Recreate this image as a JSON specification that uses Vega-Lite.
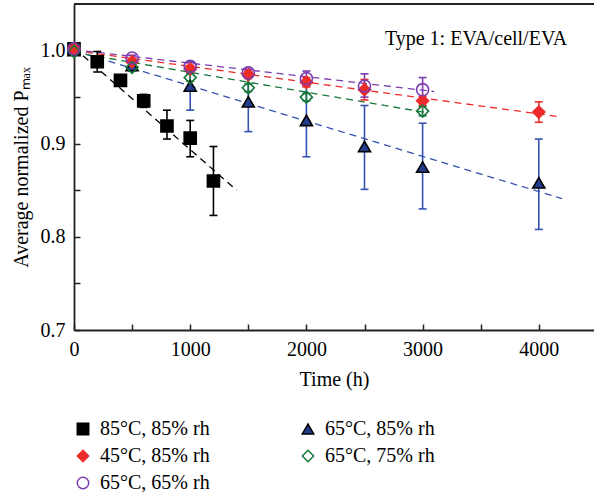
{
  "$schema": "https://vega.github.io/schema/vega-lite/v6.json",
  "width": 520,
  "height": 326,
  "autosize": {"type": "none"},
  "padding": {"left": 74, "top": 4, "right": 0, "bottom": 168},
  "background": "white",
  "config": {
    "view": {"stroke": null},
    "font": "Liberation Serif",
    "axis": {
      "grid": false,
      "domainColor": "#222222",
      "domainWidth": 1.8,
      "tickColor": "#222222",
      "tickWidth": 1.5,
      "tickSize": -6,
      "labelFlush": false,
      "labelFont": "Liberation Serif",
      "labelFontSize": 20,
      "labelColor": "black",
      "titleFont": "Liberation Serif",
      "titleFontSize": 20,
      "titleFontWeight": "normal",
      "titleColor": "black"
    },
    "legend": {
      "labelFont": "Liberation Serif",
      "labelFontSize": 20,
      "labelColor": "black"
    }
  },
  "datasets": {
    "pts": [
      {"s": "85°C, 85% rh", "t": 0, "v": 1.002},
      {"s": "85°C, 85% rh", "t": 200, "v": 0.988, "lo": 0.977, "hi": 0.999},
      {"s": "85°C, 85% rh", "t": 400, "v": 0.968, "lo": 0.963, "hi": 0.973},
      {"s": "85°C, 85% rh", "t": 600, "v": 0.946, "lo": 0.939, "hi": 0.953},
      {"s": "85°C, 85% rh", "t": 800, "v": 0.919, "lo": 0.905, "hi": 0.936},
      {"s": "85°C, 85% rh", "t": 1000, "v": 0.906, "lo": 0.886, "hi": 0.925},
      {"s": "85°C, 85% rh", "t": 1200, "v": 0.860, "lo": 0.823, "hi": 0.897},
      {"s": "65°C, 85% rh", "t": 0, "v": 1.0},
      {"s": "65°C, 85% rh", "t": 500, "v": 0.984, "lo": 0.978, "hi": 0.990},
      {"s": "65°C, 85% rh", "t": 1000, "v": 0.962, "lo": 0.936, "hi": 0.988},
      {"s": "65°C, 85% rh", "t": 1500, "v": 0.945, "lo": 0.913, "hi": 0.977},
      {"s": "65°C, 85% rh", "t": 2000, "v": 0.925, "lo": 0.886, "hi": 0.963},
      {"s": "65°C, 85% rh", "t": 2500, "v": 0.897, "lo": 0.851, "hi": 0.941},
      {"s": "65°C, 85% rh", "t": 3000, "v": 0.875, "lo": 0.830, "hi": 0.922},
      {"s": "65°C, 85% rh", "t": 4000, "v": 0.858, "lo": 0.808, "hi": 0.905},
      {"s": "45°C, 85% rh", "t": 0, "v": 1.002},
      {"s": "45°C, 85% rh", "t": 500, "v": 0.988, "lo": 0.985, "hi": 0.991},
      {"s": "45°C, 85% rh", "t": 1000, "v": 0.980, "lo": 0.976, "hi": 0.984},
      {"s": "45°C, 85% rh", "t": 1500, "v": 0.974, "lo": 0.970, "hi": 0.978},
      {"s": "45°C, 85% rh", "t": 2000, "v": 0.966, "lo": 0.961, "hi": 0.971},
      {"s": "45°C, 85% rh", "t": 2500, "v": 0.958, "lo": 0.947, "hi": 0.969},
      {"s": "45°C, 85% rh", "t": 3000, "v": 0.946, "lo": 0.941, "hi": 0.951},
      {"s": "45°C, 85% rh", "t": 4000, "v": 0.934, "lo": 0.923, "hi": 0.945},
      {"s": "65°C, 75% rh", "t": 0, "v": 0.999},
      {"s": "65°C, 75% rh", "t": 500, "v": 0.982, "lo": 0.979, "hi": 0.985},
      {"s": "65°C, 75% rh", "t": 1000, "v": 0.971, "lo": 0.967, "hi": 0.975},
      {"s": "65°C, 75% rh", "t": 1500, "v": 0.960, "lo": 0.956, "hi": 0.964},
      {"s": "65°C, 75% rh", "t": 2000, "v": 0.950, "lo": 0.946, "hi": 0.954},
      {"s": "65°C, 75% rh", "t": 3000, "v": 0.935, "lo": 0.930, "hi": 0.940},
      {"s": "65°C, 65% rh", "t": 0, "v": 1.002},
      {"s": "65°C, 65% rh", "t": 500, "v": 0.992, "lo": 0.989, "hi": 0.995},
      {"s": "65°C, 65% rh", "t": 1000, "v": 0.983, "lo": 0.979, "hi": 0.987},
      {"s": "65°C, 65% rh", "t": 1500, "v": 0.976, "lo": 0.972, "hi": 0.980},
      {"s": "65°C, 65% rh", "t": 2000, "v": 0.970, "lo": 0.962, "hi": 0.978},
      {"s": "65°C, 65% rh", "t": 2500, "v": 0.962, "lo": 0.950, "hi": 0.975},
      {"s": "65°C, 65% rh", "t": 3000, "v": 0.958, "lo": 0.946, "hi": 0.971}
    ],
    "fits": [
      {"s": "85°C, 85% rh", "t": 0, "v": 1.003},
      {"s": "85°C, 85% rh", "t": 1400, "v": 0.850},
      {"s": "65°C, 85% rh", "t": 0, "v": 1.0},
      {"s": "65°C, 85% rh", "t": 4200, "v": 0.841},
      {"s": "45°C, 85% rh", "t": 0, "v": 1.0},
      {"s": "45°C, 85% rh", "t": 4180, "v": 0.929},
      {"s": "65°C, 75% rh", "t": 0, "v": 0.998},
      {"s": "65°C, 75% rh", "t": 3050, "v": 0.933},
      {"s": "65°C, 65% rh", "t": 0, "v": 1.001},
      {"s": "65°C, 65% rh", "t": 3100, "v": 0.956}
    ],
    "notes": [
      {"label": "Type 1: EVA/cell/EVA", "t": 3460, "v": 1.0065}
    ]
  },
  "layer": [
    {
      "data": {"name": "fits"},
      "mark": {"type": "line", "strokeDash": [7, 5], "strokeWidth": 1.3},
      "encoding": {
        "x": {
          "field": "t", "type": "quantitative",
          "scale": {"domain": [0, 4475], "nice": false, "zero": false},
          "axis": {
            "values": [0, 500, 1000, 1500, 2000, 2500, 3000, 3500, 4000],
            "format": "d",
            "labelExpr": "datum.value % 1000 === 0 ? datum.label : ''",
            "labelPadding": 15,
            "title": "Time (h)",
            "titlePadding": 10
          }
        },
        "y": {
          "field": "v", "type": "quantitative",
          "scale": {"domain": [0.7, 1.05], "nice": false, "zero": false},
          "axis": {
            "values": [0.7, 0.75, 0.8, 0.85, 0.9, 0.95, 1.0],
            "labelExpr": "round(datum.value * 20) % 2 === 0 ? format(datum.value, '.1f') : ''",
            "labelPadding": 15,
            "title": "Average normalized Pₘₐₓ",
            "titlePadding": 9
          }
        },
        "color": {
          "field": "s", "type": "nominal",
          "scale": {
            "domain": ["45°C, 85% rh", "65°C, 65% rh", "65°C, 75% rh", "65°C, 85% rh", "85°C, 85% rh"],
            "range": ["#ee2b2b", "#7a3db0", "#16773a", "#3552b0", "black"]
          },
          "legend": null
        }
      }
    },
    {
      "data": {"name": "pts"},
      "mark": {"type": "rule", "strokeWidth": 1.6},
      "encoding": {
        "x": {"field": "t", "type": "quantitative"},
        "y": {"field": "lo", "type": "quantitative"},
        "y2": {"field": "hi"},
        "color": {"field": "s", "type": "nominal", "legend": null}
      }
    },
    {
      "data": {"name": "pts"},
      "mark": {"type": "tick", "orient": "horizontal", "size": 8, "thickness": 1.6, "opacity": 1},
      "encoding": {
        "x": {"field": "t", "type": "quantitative"},
        "y": {"field": "lo", "type": "quantitative"},
        "color": {"field": "s", "type": "nominal", "legend": null}
      }
    },
    {
      "data": {"name": "pts"},
      "mark": {"type": "tick", "orient": "horizontal", "size": 8, "thickness": 1.6, "opacity": 1},
      "encoding": {
        "x": {"field": "t", "type": "quantitative"},
        "y": {"field": "hi", "type": "quantitative"},
        "color": {"field": "s", "type": "nominal", "legend": null}
      }
    },
    {
      "data": {"name": "pts"},
      "mark": {"type": "point", "size": 145, "opacity": 1, "strokeWidth": 1.6},
      "encoding": {
        "x": {"field": "t", "type": "quantitative"},
        "y": {"field": "v", "type": "quantitative"},
        "shape": {
          "field": "s", "type": "nominal",
          "scale": {
            "domain": ["85°C, 85% rh", "45°C, 85% rh", "65°C, 65% rh", "65°C, 85% rh", "65°C, 75% rh"],
            "range": ["square", "diamond", "circle", "triangle-up", "diamond"]
          },
          "legend": {
            "title": null,
            "orient": "none",
            "legendX": -1,
            "legendY": 415,
            "columns": 2,
            "columnPadding": 88,
            "rowPadding": 7,
            "labelOffset": 7,
            "symbolSize": 130,
            "symbolStrokeWidth": 1.5
          }
        },
        "fill": {
          "field": "s", "type": "nominal",
          "scale": {
            "domain": ["85°C, 85% rh", "45°C, 85% rh", "65°C, 65% rh", "65°C, 85% rh", "65°C, 75% rh"],
            "range": ["black", "#ee2b2b", "transparent", "#223d8e", "transparent"]
          }
        },
        "stroke": {
          "field": "s", "type": "nominal",
          "scale": {
            "domain": ["85°C, 85% rh", "45°C, 85% rh", "65°C, 65% rh", "65°C, 85% rh", "65°C, 75% rh"],
            "range": ["black", "#ee2b2b", "#7a3db0", "black", "#16773a"]
          }
        }
      }
    },
    {
      "data": {"name": "notes"},
      "mark": {"type": "text", "font": "Liberation Serif", "fontSize": 20, "align": "center", "baseline": "alphabetic", "color": "black"},
      "encoding": {
        "x": {"field": "t", "type": "quantitative"},
        "y": {"field": "v", "type": "quantitative"},
        "text": {"field": "label"}
      }
    },
    {
      "data": {"name": "notes"},
      "mark": {"type": "rule", "color": "#222222", "strokeWidth": 1.8},
      "encoding": {"y": {"datum": 1.05}}
    }
  ]
}
